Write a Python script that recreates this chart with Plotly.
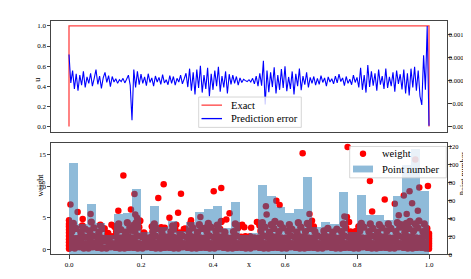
import numpy as np
import plotly.graph_objects as go

# ---------------- top panel data ----------------
exact_x = [0.0, 0.0, 1.0, 1.0]
exact_u = [0.0, 1.0, 1.0, 0.0]

prediction_error = [
    5.7e-4,
    -0.5e-4, 2.2e-4, -1.8e-4, 1.5e-4, -2.2e-4, 1.2e-4, -1.0e-4, 2.0e-4,
    -1.5e-4, 0.8e-4, -0.6e-4, 1.6e-4, -1.2e-4, 0.5e-4, 2.4e-4, -0.8e-4,
    1.0e-4, -1.7e-4, 0.6e-4, 1.8e-4, -0.4e-4, 1.1e-4, -1.3e-4, 0.9e-4,
    -0.3e-4, 0.4e-4, -0.6e-4, 0.2e-4, -0.2e-4, 0.5e-4, -0.5e-4, 0.3e-4, 1.2e-4,
    -1.0e-4, -8.6e-4, 2.4e-4, -1.5e-4, 2.0e-4,
    -0.9e-4, 1.4e-4, -0.6e-4, 0.8e-4, -1.1e-4, 1.5e-4, -0.4e-4, 0.6e-4, -1.2e-4,
    1.0e-4, -0.3e-4, 0.7e-4, -0.8e-4, 1.3e-4, -0.5e-4, 0.2e-4, -0.9e-4, 1.1e-4,
    -0.6e-4, 0.9e-4, -1.0e-4, 0.5e-4, -0.3e-4, 1.2e-4, -0.7e-4, 0.4e-4, 1.6e-4,
    -1.4e-4, 2.6e-4, -2.2e-4, 1.8e-4, -3.0e-4, 2.4e-4, -1.6e-4, 3.2e-4, -2.6e-4,
    1.2e-4, -1.8e-4, 2.8e-4, -3.4e-4, 1.5e-4, -2.0e-4, 2.2e-4, -1.2e-4, 3.0e-4,
    -2.4e-4, 1.0e-4, -1.5e-4, 2.0e-4, -2.8e-4, 1.4e-4, -0.8e-4,
    1.2e-4, -0.6e-4, 0.9e-4, -1.0e-4, 0.6e-4, -0.4e-4, 0.3e-4, 0.0e-4,
    -0.2e-4, 0.2e-4, -0.3e-4, 0.5e-4, -0.7e-4, 1.0e-4, -1.2e-4,
    1.6e-4, -1.1e-4, 4.3e-4, -5.2e-4, 2.2e-4, -2.5e-4, 1.8e-4, -1.4e-4, 2.9e-4, -2.8e-4,
    1.2e-4, -2.0e-4, 2.5e-4, -1.6e-4, 3.1e-4, -2.3e-4, 0.8e-4, -1.8e-4, 2.0e-4, -3.0e-4,
    1.5e-4, -1.2e-4, 2.6e-4, -2.1e-4, 1.0e-4, -0.9e-4, 1.8e-4, -1.5e-4, 0.7e-4, -0.6e-4,
    0.9e-4, -1.0e-4, 0.5e-4, -0.8e-4, 1.1e-4, -0.4e-4, 0.6e-4, -1.2e-4, 0.8e-4,
    -0.3e-4, 0.4e-4, -0.7e-4, 1.0e-4, -0.5e-4, 1.4e-4, -0.2e-4, 0.6e-4, -1.1e-4,
    0.9e-4, -0.6e-4, 0.3e-4, -0.9e-4, 1.2e-4, -0.4e-4, 0.7e-4,
    -1.5e-4, 2.8e-4, -2.0e-4, 1.2e-4, -2.6e-4, 3.4e-4, -1.4e-4, 2.0e-4, -1.1e-4,
    1.6e-4, -2.2e-4, 2.4e-4, -0.9e-4, 1.0e-4, -1.8e-4, 2.6e-4, -1.6e-4, 0.8e-4,
    -1.2e-4, 1.8e-4, -2.4e-4, 2.2e-4, -0.7e-4, 1.4e-4, -1.9e-4,
    2.4e-4, -2.8e-4, 1.6e-4, -3.2e-4, 2.6e-4, -1.5e-4, 3.0e-4, -2.2e-4, 2.2e-4, -3.4e-4,
    -5.3e-4, 5.5e-4, -2.0e-4, 11.9e-4, -9.8e-4,
]
error_x = np.linspace(0.0, 1.0, len(prediction_error))

# ---------------- bottom panel data ----------------
bin_centers = [
    0.0125, 0.0375, 0.0625, 0.0875, 0.1125, 0.1375, 0.1625, 0.1875, 0.2125, 0.2375,
    0.2625, 0.2875, 0.3125, 0.3375, 0.3625, 0.3875, 0.4125, 0.4375, 0.4625, 0.4875,
    0.5125, 0.5375, 0.5625, 0.5875, 0.6125, 0.6375, 0.6625, 0.6875, 0.7125, 0.7375,
    0.7625, 0.7875, 0.8125, 0.8375, 0.8625, 0.8875, 0.9125, 0.9375, 0.9625, 0.9875,
]
point_counts = [
    102, 34, 57, 35, 22, 45, 46, 73, 25, 54,
    31, 38, 26, 37, 48, 51, 54, 30, 59, 22,
    24, 78, 65, 53, 47, 51, 87, 31, 37, 34,
    70, 25, 66, 44, 44, 39, 65, 100, 118, 71,
]

# dense cloud of low weights (mostly hidden under the translucent bars)
cloud_points = [
    (0.004,0.3),(0.016,0.2),(0.010,1.0),(0.021,1.2),(0.005,1.9),(0.017,1.7),(0.008,2.8),(0.019,3.3),(0.012,4.1),(0.003,3.6),
    (0.029,0.4),(0.041,0.2),(0.034,1.1),(0.046,0.9),(0.028,1.8),(0.040,2.0),(0.033,2.7),(0.045,3.2),(0.037,3.7),
    (0.054,0.2),(0.066,0.4),(0.060,1.2),(0.071,1.0),(0.053,1.9),(0.065,2.1),(0.057,2.9),(0.069,3.4),(0.062,4.3),
    (0.079,0.3),(0.091,0.2),(0.085,1.0),(0.096,1.3),(0.078,2.0),(0.090,1.8),(0.083,2.7),(0.094,3.3),(0.087,3.8),
    (0.104,0.2),(0.116,0.4),(0.110,1.1),(0.121,0.9),(0.103,1.8),(0.115,2.0),(0.108,2.5),
    (0.129,0.3),(0.141,0.2),(0.135,1.2),(0.146,1.0),(0.128,2.1),(0.140,1.8),(0.132,2.8),(0.144,3.1),(0.138,4.0),(0.127,3.6),
    (0.154,0.2),(0.166,0.3),(0.160,1.0),(0.171,1.2),(0.153,1.9),(0.165,2.0),(0.157,2.7),(0.169,3.4),(0.162,4.2),(0.172,3.0),
    (0.179,0.3),(0.191,0.2),(0.185,1.1),(0.196,0.9),(0.178,1.8),(0.190,2.1),(0.183,2.9),(0.194,3.5),(0.187,4.2),(0.180,3.8),(0.197,4.5),
    (0.204,0.2),(0.216,0.4),(0.210,1.0),(0.221,1.2),(0.203,2.0),(0.215,1.8),(0.208,2.6),
    (0.229,0.3),(0.241,0.2),(0.235,1.1),(0.246,1.0),(0.228,1.9),(0.240,2.1),(0.233,2.8),(0.244,3.3),(0.237,4.0),(0.231,3.6),
    (0.254,0.2),(0.266,0.3),(0.260,1.2),(0.271,1.0),(0.253,1.8),(0.265,2.0),(0.258,2.7),
    (0.279,0.3),(0.291,0.2),(0.285,1.0),(0.296,1.2),(0.278,2.0),(0.290,1.9),(0.283,2.8),(0.294,3.2),(0.288,3.7),
    (0.304,0.2),(0.316,0.4),(0.310,1.1),(0.321,0.9),(0.303,1.8),(0.315,2.1),(0.308,2.6),
    (0.329,0.3),(0.341,0.2),(0.335,1.2),(0.346,1.0),(0.328,1.9),(0.340,2.0),(0.333,2.9),(0.344,3.4),(0.338,4.1),
    (0.354,0.2),(0.366,0.3),(0.360,1.0),(0.371,1.2),(0.353,2.0),(0.365,1.8),(0.357,2.7),(0.369,3.3),(0.362,3.9),
    (0.379,0.3),(0.391,0.2),(0.385,1.1),(0.396,0.9),(0.378,1.8),(0.390,2.1),(0.383,2.8),(0.394,3.5),(0.387,4.1),(0.380,3.4),
    (0.404,0.2),(0.416,0.4),(0.410,1.2),(0.421,1.0),(0.403,1.9),(0.415,2.0),(0.408,2.9),(0.419,3.2),(0.412,3.8),(0.423,4.4),
    (0.429,0.3),(0.441,0.2),(0.435,1.0),(0.446,1.2),(0.428,2.0),(0.440,1.8),(0.433,2.7),
    (0.454,0.2),(0.466,0.3),(0.460,1.1),(0.471,0.9),(0.453,1.8),(0.465,2.1),(0.457,2.8),(0.469,3.4),(0.462,4.0),(0.472,3.7),
    (0.479,0.3),(0.491,0.2),(0.485,1.2),(0.496,1.0),(0.478,1.9),(0.490,2.0),
    (0.504,0.2),(0.516,0.4),(0.510,1.0),(0.521,1.2),(0.503,2.0),(0.515,1.8),
    (0.529,0.3),(0.541,0.2),(0.535,1.1),(0.546,0.9),(0.528,1.8),(0.540,2.1),(0.533,2.9),(0.544,3.5),(0.537,4.2),(0.530,3.8),
    (0.554,0.2),(0.566,0.3),(0.560,1.2),(0.571,1.0),(0.553,1.9),(0.565,2.0),(0.557,2.7),(0.569,3.3),(0.562,3.9),(0.572,4.4),
    (0.579,0.3),(0.591,0.2),(0.585,1.0),(0.596,1.2),(0.578,2.0),(0.590,1.8),(0.583,2.8),(0.594,3.4),(0.587,4.0),
    (0.604,0.2),(0.616,0.4),(0.610,1.1),(0.621,0.9),(0.603,1.8),(0.615,2.1),(0.608,2.9),(0.619,3.2),(0.612,3.9),
    (0.629,0.3),(0.641,0.2),(0.635,1.2),(0.646,1.0),(0.628,1.9),(0.640,2.0),(0.633,2.7),(0.644,3.5),(0.637,4.2),
    (0.654,0.2),(0.666,0.3),(0.660,1.0),(0.671,1.2),(0.653,2.0),(0.665,1.8),(0.657,2.8),(0.669,3.3),(0.662,4.1),(0.672,3.7),
    (0.679,0.3),(0.691,0.2),(0.685,1.1),(0.696,0.9),(0.678,1.8),(0.690,2.1),(0.683,2.8),
    (0.704,0.2),(0.716,0.4),(0.710,1.2),(0.721,1.0),(0.703,1.9),(0.715,2.0),(0.708,2.9),(0.719,3.3),
    (0.729,0.3),(0.741,0.2),(0.735,1.0),(0.746,1.2),(0.728,2.0),(0.740,1.8),(0.733,2.7),(0.744,3.2),
    (0.754,0.2),(0.766,0.3),(0.760,1.1),(0.771,0.9),(0.753,1.8),(0.765,2.1),(0.757,2.8),(0.769,3.4),(0.762,4.0),
    (0.779,0.3),(0.791,0.2),(0.785,1.2),(0.796,1.0),(0.778,1.9),(0.790,2.0),
    (0.804,0.2),(0.816,0.4),(0.810,1.0),(0.821,1.2),(0.803,2.0),(0.815,1.8),(0.808,2.9),(0.819,3.5),(0.812,4.1),(0.805,3.6),
    (0.829,0.3),(0.841,0.2),(0.835,1.1),(0.846,0.9),(0.828,1.8),(0.840,2.1),(0.833,2.8),(0.844,3.3),(0.837,4.0),
    (0.854,0.2),(0.866,0.3),(0.860,1.2),(0.871,1.0),(0.853,1.9),(0.865,2.0),(0.857,2.7),(0.869,3.4),(0.862,3.9),
    (0.879,0.3),(0.891,0.2),(0.885,1.0),(0.896,1.2),(0.878,2.0),(0.890,1.8),(0.883,2.9),(0.894,3.3),(0.887,4.0),
    (0.904,0.2),(0.916,0.4),(0.910,1.1),(0.921,0.9),(0.903,1.8),(0.915,2.1),(0.908,2.8),(0.919,3.5),(0.912,4.2),(0.922,3.9),
    (0.929,0.3),(0.941,0.2),(0.935,1.2),(0.946,1.0),(0.928,1.9),(0.940,2.0),(0.933,2.7),(0.944,3.3),(0.937,4.1),(0.930,3.7),(0.947,4.4),
    (0.954,0.2),(0.966,0.3),(0.960,1.0),(0.971,1.2),(0.953,2.0),(0.965,1.8),(0.957,2.9),(0.969,3.4),(0.962,4.0),(0.972,4.5),
    (0.979,0.3),(0.991,0.2),(0.985,1.1),(0.996,0.9),(0.978,1.8),(0.990,2.1),(0.983,2.8),(0.994,3.3),(0.987,4.0),
]

# higher weights (the bright red ones stick out above the bars)
upper_points = [
    (0.004,7.1),(0.024,5.9),(0.038,4.8),(0.060,5.6),(0.099,3.3),(0.118,3.9),(0.137,6.1),
    (0.151,11.7),(0.172,6.3),(0.182,8.75),(0.184,5.5),(0.189,5.0),(0.248,8.1),(0.256,3.5),
    (0.266,3.4),(0.263,10.3),(0.279,5.0),(0.298,3.9),(0.303,5.8),(0.311,8.8),(0.319,3.2),
    (0.323,3.3),(0.339,4.6),(0.365,5.1),(0.402,9.2),(0.423,9.7),(0.437,4.7),(0.446,5.7),
    (0.481,3.9),(0.487,3.5),(0.506,3.4),(0.522,4.3),(0.547,6.8),(0.549,5.5),(0.576,7.7),
    (0.585,7.0),(0.649,15.2),(0.668,5.6),(0.675,4.5),(0.680,3.6),(0.765,5.2),(0.772,5.1),
    (0.774,16.2),(0.778,4.3),(0.782,2.8),(0.788,2.7),(0.794,2.8),(0.799,2.9),(0.836,10.8),
    (0.842,6.0),(0.877,7.9),(0.905,7.2),(0.916,5.4),(0.930,8.5),(0.938,5.6),(0.946,9.2),
    (0.953,7.3),(0.962,14.2),(0.969,6.1),(0.973,9.8),(0.997,10.0),
]

# points stacked on the two boundaries x = 0 and x = 1
edge_points = [
    (0.0,0.1),(0.0,0.6),(0.0,1.1),(0.0,1.6),(0.0,2.1),(0.0,2.6),(0.0,3.1),(0.0,3.6),(0.0,4.0),(0.0,4.6),
    (1.0,0.1),(1.0,0.5),(1.0,0.9),(1.0,1.3),(1.0,1.7),(1.0,2.1),(1.0,2.5),
]

cloud_x = [p[0] for p in cloud_points]
cloud_w = [p[1] for p in cloud_points]
other_points = upper_points + edge_points
other_x = [p[0] for p in other_points]
other_w = [p[1] for p in other_points]

# tick labels
u_ticks = [0.0, 0.2, 0.4, 0.6, 0.8, 1.0]
u_ticktext = ["0.0", "0.2", "0.4", "0.6", "0.8", "1.0"]
err_ticks = [-0.001, -0.0005, 0.0, 0.0005, 0.001]
err_ticktext = ["\u22120.0010", "\u22120.0005", "0.0000", "0.0005", "0.0010"]
x_ticks = [0.0, 0.2, 0.4, 0.6, 0.8, 1.0]
x_ticktext = ["0.0", "0.2", "0.4", "0.6", "0.8", "1.0"]
w_ticks = [0, 5, 10, 15]
n_ticks = [0, 20, 40, 60, 80, 100, 120]

# ---------------- figure ----------------
W, H = 471, 279
SERIF = "Liberation Serif"
FRAME = "#444444"
RED_LINE = "rgba(255,0,0,0.75)"
BAR_FILL = "rgba(31,119,180,0.5)"

fig = go.Figure()
fig.add_trace(go.Scatter(x=exact_x, y=exact_u, mode="lines", name="Exact",
                         line=dict(color=RED_LINE, width=1.3),
                         xaxis="x", yaxis="y", showlegend=False))
fig.add_trace(go.Scatter(x=error_x, y=prediction_error, mode="lines", name="Prediction error",
                         line=dict(color="#0000ff", width=1.1),
                         xaxis="x", yaxis="y2", showlegend=False))
fig.add_trace(go.Scatter(x=cloud_x, y=cloud_w, mode="markers", name="weight",
                         marker=dict(color="#ff0000", size=7.3, line=dict(width=0)),
                         xaxis="x2", yaxis="y3", showlegend=False))
fig.add_trace(go.Scatter(x=other_x, y=other_w, mode="markers", name="weight",
                         marker=dict(color="#ff0000", size=6.5, line=dict(width=0)),
                         xaxis="x2", yaxis="y3", showlegend=False))
fig.add_trace(go.Bar(x=bin_centers, y=point_counts, width=0.025, name="Point number",
                     marker=dict(color=BAR_FILL, line=dict(width=0)),
                     xaxis="x2", yaxis="y4", showlegend=False))

xd = [43 / W, 439 / W]
top_d = [1 - 125 / H, 1 - 13 / H]
bot_d = [1 - 249 / H, 1 - 136 / H]
tickfont = dict(family=SERIF, size=7, color="black")
rtickfont = dict(family=SERIF, size=6.5, color="black")
common = dict(showline=True, linecolor=FRAME, linewidth=1, showgrid=False, zeroline=False,
              ticks="outside", ticklen=3.5, tickwidth=0.8, tickcolor=FRAME, tickfont=tickfont)

fig.update_layout(
    width=W, height=H, margin=dict(l=0, r=0, t=0, b=0),
    plot_bgcolor="white", paper_bgcolor="white", bargap=0, showlegend=False,
    xaxis=dict(common, domain=xd, anchor="y", range=[-0.05, 1.05], mirror=True,
               showticklabels=False, ticks=""),
    yaxis=dict(common, domain=top_d, anchor="x", range=[-0.05, 1.05], mirror=True,
               tickvals=u_ticks, ticktext=u_ticktext, ticklabelstandoff=-1),
    yaxis2=dict(common, overlaying="y", side="right", anchor="x", range=[-0.00111, 0.0013],
                showline=False, tickvals=err_ticks, ticktext=err_ticktext,
                tickfont=rtickfont, ticklabelstandoff=-4),
    xaxis2=dict(common, domain=xd, anchor="y3", range=[-0.05, 1.05], mirror=True,
                tickvals=x_ticks, ticktext=x_ticktext),
    yaxis3=dict(common, domain=bot_d, anchor="x2", range=[-0.8, 16.9], mirror=True,
                tickvals=w_ticks, ticklabelstandoff=-1),
    yaxis4=dict(common, overlaying="y3", side="right", anchor="x2", range=[0, 124.4],
                showline=False, tickvals=n_ticks, tickfont=rtickfont, ticklabelstandoff=-4),
)


def px(xp):
    return xp / W


def py(yp):
    return 1 - yp / H


legend_font = dict(family=SERIF, size=10.5, color="black")
label_font = dict(family=SERIF, size=8, color="black")

# ----- legend of the top panel (drawn as shapes + text) -----
fig.add_shape(type="rect", xref="paper", yref="paper", layer="above",
              x0=px(190.7), x1=px(293.3), y0=py(120.7), y1=py(90),
              fillcolor="rgba(255,255,255,0.8)", line=dict(color="#cccccc", width=0.8))
fig.add_shape(type="line", xref="paper", yref="paper", layer="above",
              x0=px(193.5), x1=px(214), y0=py(98.2), y1=py(98.2),
              line=dict(color=RED_LINE, width=1.3))
fig.add_shape(type="line", xref="paper", yref="paper", layer="above",
              x0=px(193.5), x1=px(214), y0=py(111.8), y1=py(111.8),
              line=dict(color="#0000ff", width=1.3))
fig.add_annotation(text="Exact", x=px(220.5), y=py(98.2), xref="paper", yref="paper",
                   xanchor="left", yanchor="middle", showarrow=False, font=legend_font)
fig.add_annotation(text="Prediction error", x=px(220.5), y=py(111.8), xref="paper", yref="paper",
                   xanchor="left", yanchor="middle", showarrow=False, font=legend_font)

# ----- legend of the bottom panel -----
fig.add_shape(type="rect", xref="paper", yref="paper", layer="above",
              x0=px(341.7), x1=px(438.3), y0=py(171.7), y1=py(140),
              fillcolor="rgba(255,255,255,0.8)", line=dict(color="#cccccc", width=0.8))
fig.add_shape(type="circle", xref="paper", yref="paper", layer="above",
              x0=px(351.8), x1=px(358.2), y0=py(150.5), y1=py(144.1),
              fillcolor="#ff0000", line=dict(width=0))
fig.add_shape(type="rect", xref="paper", yref="paper", layer="above",
              x0=px(345), x1=px(365), y0=py(166.2), y1=py(159.3),
              fillcolor=BAR_FILL, line=dict(width=0))
fig.add_annotation(text="weight", x=px(371.5), y=py(147.3), xref="paper", yref="paper",
                   xanchor="left", yanchor="middle", showarrow=False, font=legend_font)
fig.add_annotation(text="Point number", x=px(371.5), y=py(162.8), xref="paper", yref="paper",
                   xanchor="left", yanchor="middle", showarrow=False, font=legend_font)

# ----- axis titles -----
fig.add_annotation(text="u", x=px(23), y=py(69), xref="paper", yref="paper",
                   showarrow=False, textangle=-90, font=label_font)
fig.add_annotation(text="weight", x=px(25.5), y=py(193), xref="paper", yref="paper",
                   showarrow=False, textangle=-90, font=label_font)
fig.add_annotation(text="Point number", x=px(462), y=py(192), xref="paper", yref="paper",
                   showarrow=False, textangle=-90, font=label_font)
fig.add_annotation(text="x", x=px(241), y=py(266), xref="paper", yref="paper",
                   showarrow=False, font=label_font)

fig.write_html("out.html")
